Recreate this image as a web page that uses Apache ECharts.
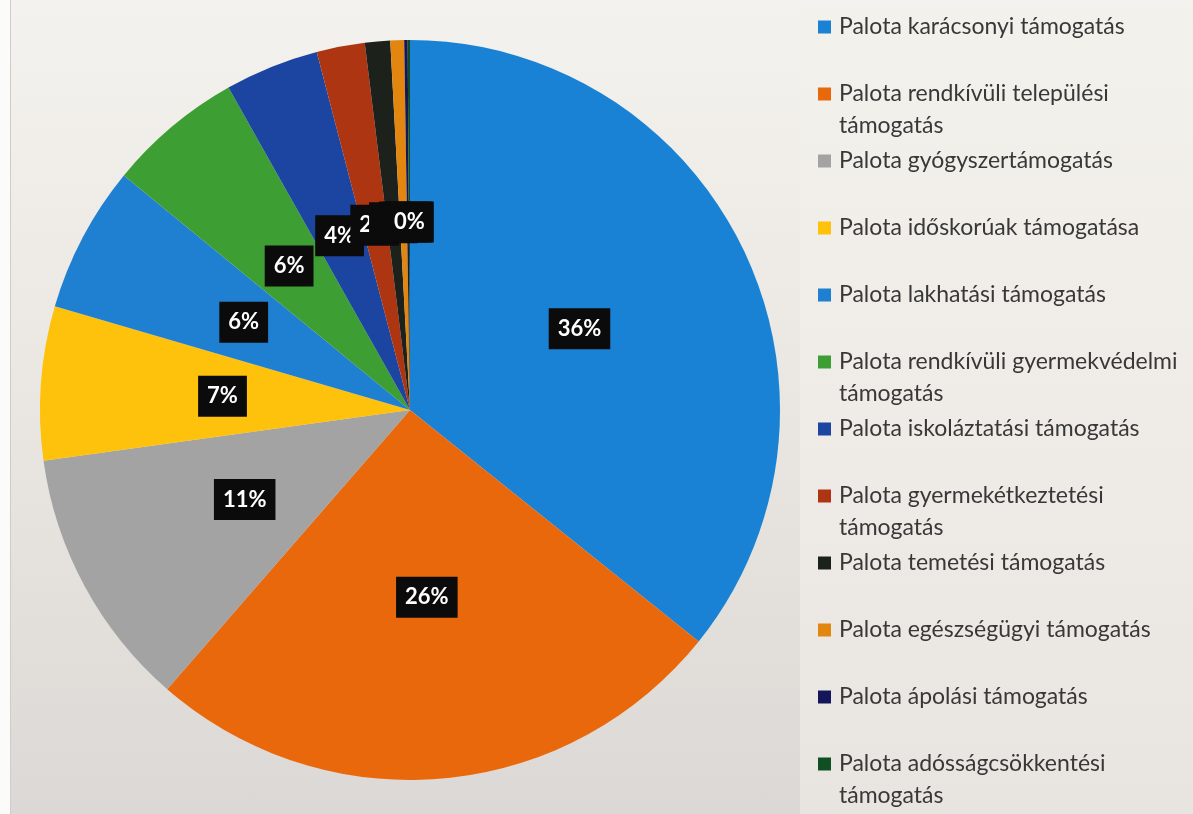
<!DOCTYPE html>
<html>
<head>
<meta charset="utf-8">
<script src="https://cdn.jsdelivr.net/npm/echarts@6/dist/echarts.min.js"></script>
<style>
  html, body { margin: 0; padding: 0; width: 1193px; height: 814px; overflow: hidden; }
  body {
    background: linear-gradient(to bottom, #f4f2ee 0%, #ebe8e3 45%, #dcd8d5 100%);
    position: relative;
  }
  #leftstrip { position: absolute; left: 0; top: 0; width: 10px; height: 814px; background: #fbfbfa; border-right: 1px solid #cfcccb; }
  #rightpanel { position: absolute; left: 800px; top: 8px; width: 393px; height: 806px;
    background: linear-gradient(to bottom, #f3f1ec 0%, #eeebe6 60%, #e8e5e0 100%); }
  #chart { position: absolute; left: 0; top: 0; width: 1193px; height: 814px; }
</style>
</head>
<body>
<div id="leftstrip"></div>
<div id="rightpanel"></div>
<div id="chart"></div>
<script>
const categories = [
  'Palota karácsonyi támogatás',
  'Palota rendkívüli települési támogatás',
  'Palota gyógyszertámogatás',
  'Palota időskorúak támogatása',
  'Palota lakhatási támogatás',
  'Palota rendkívüli gyermekvédelmi támogatás',
  'Palota iskoláztatási támogatás',
  'Palota gyermekétkeztetési támogatás',
  'Palota temetési támogatás',
  'Palota egészségügyi támogatás',
  'Palota ápolási támogatás',
  'Palota adósságcsökkentési támogatás'
];
// legend line breaks (first line / second line)
const legendLines = [
  ['Palota karácsonyi támogatás'],
  ['Palota rendkívüli települési', 'támogatás'],
  ['Palota gyógyszertámogatás'],
  ['Palota időskorúak támogatása'],
  ['Palota lakhatási támogatás'],
  ['Palota rendkívüli gyermekvédelmi', 'támogatás'],
  ['Palota iskoláztatási támogatás'],
  ['Palota gyermekétkeztetési', 'támogatás'],
  ['Palota temetési támogatás'],
  ['Palota egészségügyi támogatás'],
  ['Palota ápolási támogatás'],
  ['Palota adósságcsökkentési', 'támogatás']
];
const values = [35.7, 25.6, 11.4, 6.7, 6.4, 5.9, 4.1, 2.1, 1.1, 0.6, 0.15, 0.1];
const colors = ['#1a82d4', '#ea680c', '#a3a3a3', '#fec10c', '#1f80d2', '#3d9e33',
                '#1b45a0', '#ad3512', '#1c211c', '#e3860f', '#14165a', '#0f4f22'];

const chart = echarts.init(document.getElementById('chart'), null, { renderer: 'canvas' });

const data = categories.map((name, i) => ({
  name: name,
  value: values[i],
  itemStyle: { color: colors[i] }
}));

const option = {
  backgroundColor: 'transparent',
  animation: false,
  legend: {
    orient: 'vertical',
    left: 818,
    top: -21,
    height: 900,
    padding: 0,
    itemGap: -29,
    itemWidth: 13,
    itemHeight: 13,
    icon: 'rect',
    selectedMode: false,
    data: categories,
    formatter: function (name) {
      const idx = categories.indexOf(name);
      const l = legendLines[idx];
      return ' \n' + l[0] + '\n' + (l[1] || ' ');
    },
    textStyle: {
      fontFamily: 'Lato, "Open Sans", sans-serif',
      fontSize: 23,
      lineHeight: 32,
      color: '#383838',
      padding: [0, 0, 0, 3]
    }
  },
  series: [{
    type: 'pie',
    center: [410, 410],
    radius: [0, 370],
    startAngle: 90,
    clockwise: true,
    avoidLabelOverlap: false,
    minShowLabelAngle: 0,
    labelLayout: { hideOverlap: false },
    data: data,
    itemStyle: { borderWidth: 0 },
    labelLine: { show: false },
    label: {
      show: true,
      position: 'inside',
      formatter: function (p) { return Math.round(p.percent) + '%'; },
      color: '#ffffff',
      fontFamily: 'Lato, "Open Sans", sans-serif',
      fontWeight: 'bold',
      fontSize: 22,
      backgroundColor: '#0b0b0b',
      padding: [10, 9, 9, 9]
    },
    emphasis: { disabled: true }
  }]
};
chart.setOption(option);
</script>
</body>
</html>
